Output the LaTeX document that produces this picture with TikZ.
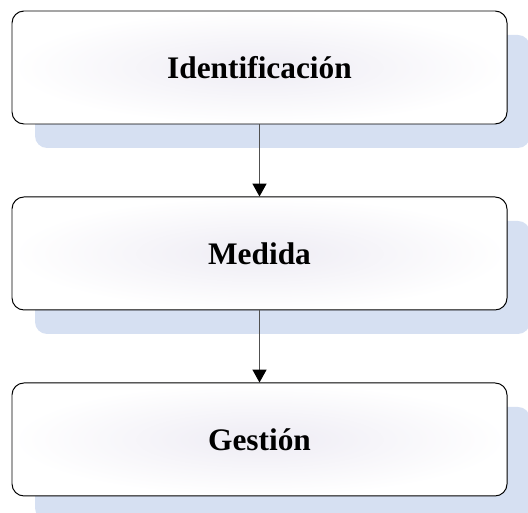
\documentclass[tikz,border=0pt]{standalone}
\usepackage{fontspec}
\setmainfont{Liberation Serif}
\usepackage{tikz}
\usetikzlibrary{positioning,arrows.meta,shadows}
\definecolor{stageshadow}{RGB}{214,224,242}
\definecolor{stagecore}{RGB}{238,236,244}
\definecolor{stagelink}{RGB}{80,80,80}

\begin{document}
\begin{tikzpicture}[
  stage/.style={rectangle, rounded corners=0.3cm, draw=black, line width=0.7pt,
    minimum width=12.375cm, minimum height=2.825cm, inner color=stagecore, outer color=white,
    font=\fontsize{22.3}{26}\selectfont\bfseries,
    general shadow={fill=stageshadow, shadow xshift=0.575cm, shadow yshift=-0.6cm}},
  link/.style={draw=stagelink, line width=0.7pt, -{Triangle[width=0.35cm,length=0.32cm,fill=black,color=black]}}
]
% Page frame: 528 x 513 px at 0.025 cm per px.
\def\pgW{13.2}
\def\pgH{12.825}
\def\gap{1.8cm}
\useasboundingbox (0,0) rectangle (\pgW,-\pgH);

% --- Stages ---
\node[stage] (ident) at (6.4875,-1.6875) {Identificación};
\node[stage, below=\gap of ident] (medida) {Medida};
\node[stage, below=\gap of medida] (gestion) {Gestión};

% --- Links ---
\draw[link] (ident) -- (medida);
\draw[link] (medida) -- (gestion);

\end{tikzpicture}
\end{document}
